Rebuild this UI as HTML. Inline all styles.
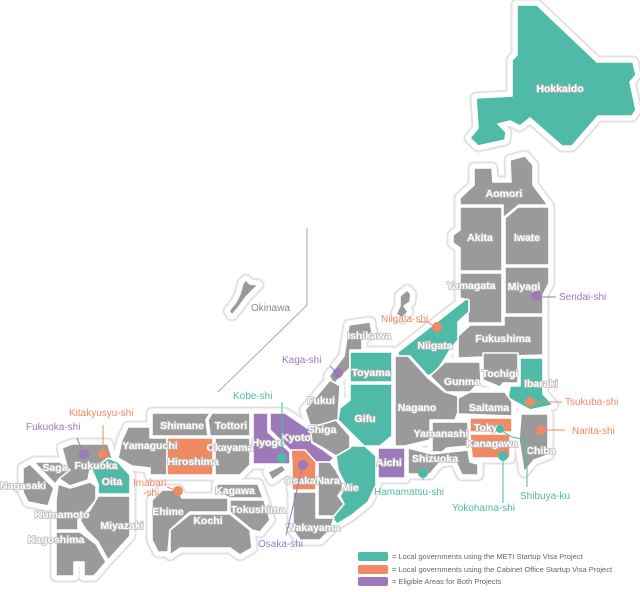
<!DOCTYPE html>
<html><head><meta charset="utf-8"><style>
html,body{margin:0;padding:0;background:#fff}
svg{display:block}
text{font-family:"Liberation Sans",sans-serif}
.l{fill:#fff;font-size:10.5px;font-weight:bold;text-anchor:middle;stroke:#b8b8b8;stroke-width:1.6px;paint-order:stroke;stroke-linejoin:round}
.c{font-size:10px}
</style></head><body>
<svg width="640" height="592" viewBox="0 0 640 592" xmlns="http://www.w3.org/2000/svg">
<defs>
<g id="map">
<polygon fill="#4fbaa8" points="517,5 537,5 597,62 633,62 636,75 630,82 636,110 632,116 598,116 572,146 562,146 530,118 520,126 510,121 498,124 506,132 505,140 478,146 470,138 478,128 476,98 512,96 512,60 517,55"/>
<polygon fill="#9a9a9a" points="460,198 474,185 474,168 492,168 493,182 511,182 510,160 525,156 533,165 533,185 548,205 519,205 503,218 503,205 460,205"/>
<polygon fill="#9a9a9a" points="460,207 502,207 502,271 460,271 460,248 453,243 453,235 460,230"/>
<polygon fill="#9a9a9a" points="505,218 518,207 549,207 549,265 505,265"/>
<polygon fill="#9a9a9a" points="460,273 502,273 502,323 468,323 468,300 460,298"/>
<polygon fill="#9a9a9a" points="505,267 549,267 549,283 543,295 543,314 505,314"/>
<polygon fill="#9a9a9a" points="458,336 470,325 504,325 504,316 543,316 543,355 458,358"/>
<polygon fill="#4fbaa8" points="398,352 466,299 469,300 469,312 458,322 458,340 450,350 444,360 436,372 428,376 410,356 398,356"/>
<polygon fill="#9a9a9a" points="349,325 370,322 372,332 362,340 362,350 350,350 350,368 334,384 329,376 344,356"/>
<polygon fill="#4fbaa8" points="350,352 392,352 392,382 350,382"/>
<polygon fill="#4fbaa8" points="350,384 392,384 392,436 380,446 364,446 350,432 338,420 340,408 350,400"/>
<polygon fill="#9a9a9a" points="395,356 408,356 428,378 445,392 458,396 458,412 455,420 430,420 430,440 405,446 395,446"/>
<polygon fill="#9a9a9a" points="430,376 445,362 480,362 481,380 470,392 446,392"/>
<polygon fill="#9a9a9a" points="483,353 518,353 518,383 503,383 500,387 483,380"/>
<polygon fill="#4fbaa8" points="520,358 543,358 543,394 553,405 530,410 508,398 510,386 520,386"/>
<polygon fill="#9a9a9a" points="458,414 458,398 470,392 505,392 512,402 512,416"/>
<polygon fill="#ef8a62" points="470,418 512,418 512,432 470,432"/>
<polygon fill="#ef8a62" points="470,434 510,434 510,458 472,458"/>
<polygon fill="#9a9a9a" points="521,414 548,414 548,455 534,460 524,472 519,440"/>
<polygon fill="#9a9a9a" points="432,422 468,422 468,446 447,448 442,452 432,452"/>
<polygon fill="#9a9a9a" points="408,448 432,454 468,450 470,462 478,464 478,475 462,475 455,460 440,462 430,474 408,474"/>
<polygon fill="#9d79b9" points="378,448 405,448 405,478 378,478"/>
<polygon fill="#4fbaa8" points="336,456 352,446 365,446 376,456 376,485 368,502 352,515 337,524 330,516 344,504 340,496 346,486 338,470"/>
<polygon fill="#9a9a9a" points="305,410 330,380 340,386 338,420 320,425 310,425"/>
<polygon fill="#9a9a9a" points="310,428 336,420 350,436 350,448 336,456 323,448 312,442"/>
<polygon fill="#9d79b9" points="270,413 285,413 310,430 312,443 322,449 334,458 330,462 300,462 288,448 270,430"/>
<polygon fill="#9d79b9" points="253,413 268,413 268,432 290,452 290,464 253,464"/>
<polygon fill="#ef8a62" points="291,450 305,450 316,462 316,490 292,490 292,466"/>
<polygon fill="#9a9a9a" points="318,462 330,462 336,470 344,486 338,496 344,504 334,516 318,516"/>
<polygon fill="#9a9a9a" points="293,492 316,492 316,518 334,518 330,530 320,540 300,540 293,530"/>
<polygon fill="#9a9a9a" points="268,472 282,465 286,470 272,480"/>
<polygon fill="#9a9a9a" points="152,413 210,413 206,420 208,436 152,436"/>
<polygon fill="#9a9a9a" points="212,413 250,413 250,436 210,436 208,420"/>
<polygon fill="#9a9a9a" points="128,427 150,427 150,438 167,438 167,475 150,475 150,468 132,466 118,458 122,440"/>
<polygon fill="#ef8a62" points="167,438 213,438 213,475 167,475"/>
<polygon fill="#9a9a9a" points="215,438 250,438 250,465 240,475 215,475"/>
<polygon fill="#9a9a9a" points="217,484 258,484 263,498 230,498 217,492"/>
<polygon fill="#9a9a9a" points="230,500 264,500 270,520 260,532 252,530 230,512"/>
<polygon fill="#9a9a9a" points="152,500 162,490 178,490 182,498 228,498 228,512 190,512 170,530 168,552 158,552 152,540"/>
<polygon fill="#9a9a9a" points="190,514 230,514 250,530 252,548 240,555 230,548 180,548 170,555 170,530"/>
<polygon fill="#9a9a9a" points="62,448 72,444 108,444 112,458 90,470 88,480 70,486 58,478 68,470"/>
<polygon fill="#4fbaa8" points="92,470 108,458 118,462 130,475 130,494 98,494 98,484"/>
<polygon fill="#9a9a9a" points="34,462 60,462 70,470 60,478 55,484"/>
<polygon fill="#9a9a9a" points="23,468 30,464 54,488 50,500 48,506 28,502 23,492"/>
<polygon fill="#9a9a9a" points="58,484 70,488 90,482 96,486 96,500 86,512 78,520 78,530 56,530 56,500"/>
<polygon fill="#9a9a9a" points="98,496 130,496 130,536 108,560 98,542 86,530 80,520 90,510"/>
<polygon fill="#9a9a9a" points="56,532 80,532 96,544 106,562 94,576 84,576 84,562 74,562 74,576 56,576"/>
<polygon fill="#9a9a9a" points="400,296 407,290 411,294 410,302 404,306 408,312 402,318 396,314 400,306"/>
<polygon fill="#9a9a9a" points="243,283 246,280 250,284 258,285 246,297 238,308 232,315 229,311 236,302 240,294"/>
</g>
</defs>
<use href="#map" stroke="#e2e2e2" stroke-width="13" stroke-linejoin="round"/>
<use href="#map" stroke="#fff" stroke-width="9" stroke-linejoin="round"/>
<use href="#map" stroke="#fff" stroke-width="1.6" stroke-linejoin="round"/>
<polyline points="307,228 307,305 218,392" fill="none" stroke="#aaa" stroke-width="1"/>
<g class="l">
<text x="560" y="92">Hokkaido</text>
<text x="504" y="197">Aomori</text>
<text x="480" y="241">Akita</text>
<text x="527" y="241">Iwate</text>
<text x="471" y="289">Yamagata</text>
<text x="524" y="290">Miyagi</text>
<text x="503" y="342">Fukushima</text>
<text x="435" y="349">Niigata</text>
<text x="369" y="339">Ishikawa</text>
<text x="371" y="376">Toyama</text>
<text x="365" y="422">Gifu</text>
<text x="417" y="411">Nagano</text>
<text x="462" y="385">Gunma</text>
<text x="500" y="377">Tochigi</text>
<text x="541" y="387">Ibaraki</text>
<text x="489" y="411">Saitama</text>
<text x="489" y="431">Tokyo</text>
<text x="492" y="447">Kanagawa</text>
<text x="541" y="454">Chiba</text>
<text x="441" y="437">Yamanashi</text>
<text x="435" y="462">Shizuoka</text>
<text x="389" y="466">Aichi</text>
<text x="350" y="491">Mie</text>
<text x="321" y="404">Fukui</text>
<text x="322" y="433">Shiga</text>
<text x="296" y="441">Kyoto</text>
<text x="268" y="446">Hyogo</text>
<text x="300" y="484">Osaka</text>
<text x="328" y="484">Nara</text>
<text x="313" y="531">Wakayama</text>
<text x="182" y="429">Shimane</text>
<text x="231" y="429">Tottori</text>
<text x="150" y="449">Yamaguchi</text>
<text x="193" y="465">Hiroshima</text>
<text x="230" y="451">Okayama</text>
<text x="235" y="494">Kagawa</text>
<text x="258" y="513">Tokushima</text>
<text x="168" y="515">Ehime</text>
<text x="208" y="524">Kochi</text>
<text x="96" y="469">Fukuoka</text>
<text x="112" y="485">Oita</text>
<text x="55" y="471">Saga</text>
<text x="23" y="489">Nagasaki</text>
<text x="62" y="518">Kumamoto</text>
<text x="122" y="529">Miyazaki</text>
<text x="56" y="543">Kagoshima</text>
</g>
<text x="251" y="311" class="c" fill="#888">Okinawa</text>
<g stroke-width="1" fill="none">
<line x1="542" y1="297" x2="556" y2="297" stroke="#9d79b9"/>
<polyline points="435,327 428,322 418,322" stroke="#ef8a62"/>
<line x1="338" y1="374" x2="330" y2="366" stroke="#9d79b9"/>
<line x1="530" y1="402" x2="562" y2="402" stroke="#ef8a62"/>
<line x1="541" y1="430" x2="565" y2="430" stroke="#ef8a62"/>
<polyline points="500,430 512,437 527,440" stroke="#4fbaa8"/>
<line x1="527" y1="440" x2="527" y2="487" stroke="#4fbaa8"/>
<line x1="503" y1="455" x2="503" y2="503" stroke="#4fbaa8"/>
<line x1="423" y1="472" x2="423" y2="480" stroke="#4fbaa8"/>
<polyline points="281,403 282,403 282,458" stroke="#4fbaa8"/>
<line x1="303" y1="465" x2="286" y2="535" stroke="#9d79b9"/>
<line x1="103" y1="453" x2="103" y2="425" stroke="#ef8a62"/>
<line x1="83" y1="453" x2="77" y2="438" stroke="#9d79b9"/>
<line x1="178" y1="491" x2="167" y2="487" stroke="#ef8a62"/>
</g>
<g>
<circle cx="536" cy="296" r="5" fill="#9d79b9"/>
<circle cx="437" cy="327" r="5" fill="#ef8a62"/>
<circle cx="338" cy="373" r="5" fill="#9d79b9"/>
<circle cx="530" cy="402" r="5" fill="#ef8a62"/>
<circle cx="541" cy="430" r="5" fill="#ef8a62"/>
<circle cx="500" cy="429" r="4" fill="#4fbaa8"/>
<circle cx="503" cy="456" r="5" fill="#4fbaa8"/>
<circle cx="423" cy="473" r="5" fill="#4fbaa8"/>
<circle cx="282" cy="458" r="5" fill="#4fbaa8"/>
<circle cx="303" cy="465" r="5" fill="#9d79b9"/>
<circle cx="103" cy="454" r="5" fill="#ef8a62"/>
<circle cx="84" cy="454" r="5" fill="#9d79b9"/>
<circle cx="178" cy="491" r="5" fill="#ef8a62"/>
</g>
<g class="c">
<text x="559" y="300" fill="#9d79b9">Sendai-shi</text>
<text x="381" y="322" fill="#ef8a62">Niigata-shi</text>
<text x="282" y="363" fill="#9d79b9">Kaga-shi</text>
<text x="565" y="405" fill="#ef8a62">Tsukuba-shi</text>
<text x="572" y="434" fill="#ef8a62">Narita-shi</text>
<text x="520" y="499" fill="#4fbaa8">Shibuya-ku</text>
<text x="452" y="511" fill="#4fbaa8">Yokohama-shi</text>
<text x="374" y="495" fill="#4fbaa8">Hamamatsu-shi</text>
<text x="233" y="399" fill="#4fbaa8">Kobe-shi</text>
<text x="258" y="547" fill="#9d79b9">Osaka-shi</text>
<text x="69" y="416" fill="#ef8a62">Kitakyusyu-shi</text>
<text x="26" y="430" fill="#9d79b9">Fukuoka-shi</text>
<text x="133" y="486" fill="#ef8a62">Imabari</text>
<text x="143" y="496" fill="#ef8a62">-shi</text>
</g>
<rect x="358" y="552" width="30" height="9" rx="2" fill="#4fbaa8"/>
<rect x="358" y="565" width="30" height="9" rx="2" fill="#ef8a62"/>
<rect x="358" y="577" width="30" height="9" rx="2" fill="#9d79b9"/>
<g font-size="7.5" fill="#666">
<text x="392" y="559">= Local governments using the METI Startup Visa Project</text>
<text x="392" y="572">= Local governments using the Cabinet Office Startup Visa Project</text>
<text x="392" y="584">= Eligible Areas for Both Projects</text>
</g>
</svg>
</body></html>
